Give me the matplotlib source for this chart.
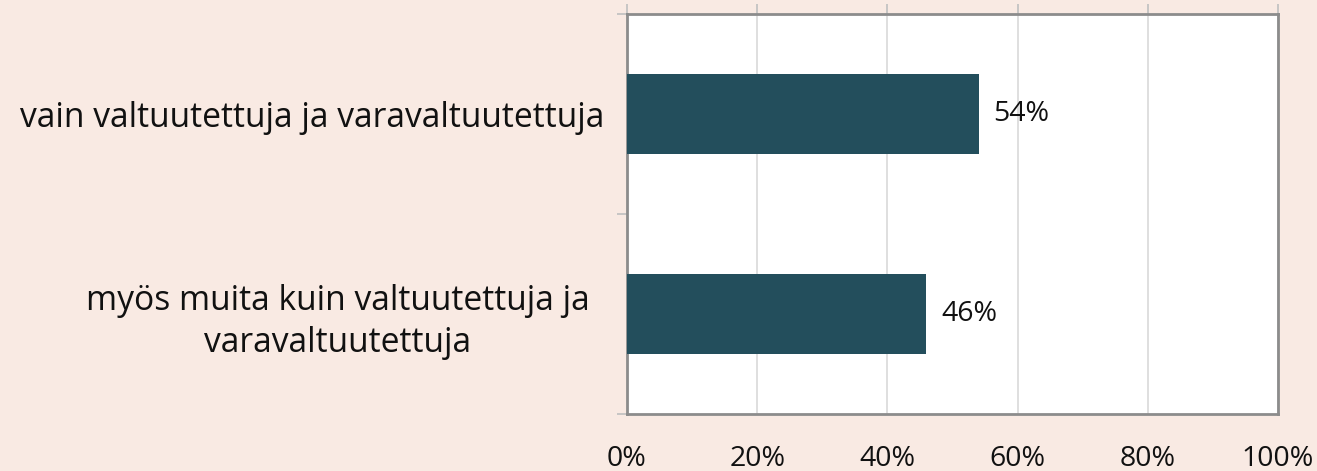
import matplotlib.pyplot as plt
from matplotlib.transforms import ScaledTranslation

categories = ['vain valtuutettuja ja varavaltuutettuja',
              'myös muita kuin valtuutettuja ja\nvaravaltuutettuja']
values = [54, 46]
xticks = [0, 20, 40, 60, 80, 100]
xtick_labels = ['0%', '20%', '40%', '60%', '80%', '100%']

bg = '#F9EAE3'
bar_color = '#234E5C'
spine_color = '#8C8C8C'

plt.rcParams['font.family'] = ['Open Sans', 'DejaVu Sans']

fig = plt.figure(figsize=(13.17, 4.71), dpi=100, facecolor=bg)
ax = fig.add_axes([627/1317, 1 - 414/471, 651/1317, 400/471])
ax.set_facecolor('white')

ypos = list(range(len(categories)))
ax.barh(ypos, values, height=0.4, color=bar_color, zorder=3)
for y, v in zip(ypos, values):
    ax.text(v + 2.3, y, f'{v}%', va='center', ha='left', fontsize=20.5, color='#111111')

ax.set_xlim(0, 100)
ax.set_ylim(len(categories) - 0.5, -0.5)
ax.set_xticks(xticks)
ax.set_xticklabels(xtick_labels, fontsize=20.5, color='#111111')
ax.xaxis.grid(True, color='#D9D9D9', linewidth=1.2, zorder=0)

# tick marks on top, labels below the chart
ax.tick_params(axis='x', top=True, bottom=False, labeltop=False, labelbottom=True,
               direction='out', length=7, width=1.2, color='#BFBFBF', pad=15)

ax.set_yticks(ypos)
ax.set_yticklabels(categories, fontsize=24.2, color='#111111', multialignment='center',
                   linespacing=1.3)
ax.set_yticks([-0.5, 0.5, 1.5], minor=True)
ax.tick_params(axis='y', which='major', length=0, pad=16)
ax.tick_params(axis='y', which='minor', length=7, width=1.2, color='#BFBFBF', direction='out')

# the wrapped label sits a little further from the axis
lab = ax.get_yticklabels()[1]
lab.set_transform(lab.get_transform() + ScaledTranslation(-0.15, 0, fig.dpi_scale_trans))

for s in ax.spines.values():
    s.set_color(spine_color)
    s.set_linewidth(2)

fig.savefig('out.png', dpi=100, facecolor=bg)
